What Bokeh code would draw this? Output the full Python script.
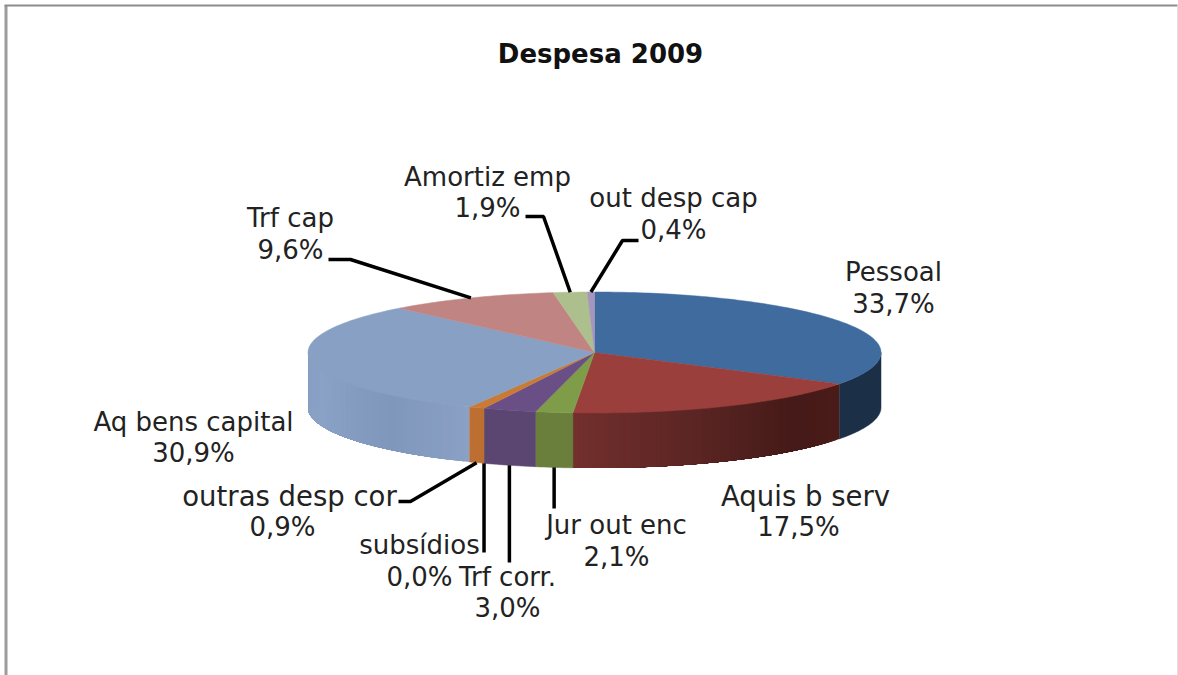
import math
from bokeh.plotting import figure
from bokeh.embed import file_html
from bokeh.resources import INLINE
from bokeh.core.properties import value

title = "Despesa 2009"
categories = ["Pessoal", "Aquis b serv", "Jur out enc", "Trf corr.", "subsídios",
              "outras desp cor", "Aq bens capital", "Trf cap", "Amortiz emp", "out desp cap"]
percent_labels = ["33,7%", "17,5%", "2,1%", "3,0%", "0,0%", "0,9%", "30,9%", "9,6%", "1,9%", "0,4%"]
shares = [33.7, 17.5, 2.1, 3.0, 0.0, 0.9, 30.9, 9.6, 1.9, 0.4]
top_colors = ["#3F6B9F", "#9A3F3C", "#7F9C48", "#6A4F86", "#4A9DB3",
              "#C97B36", "#88A0C3", "#C08583", "#ADBF8C", "#A596BE"]
side_stops = {
    "Pessoal": [(0, "#1B2F47"), (1, "#1B2F47")],
    "Aquis b serv": [(0, "#4A1B19"), (0.25, "#451A18"), (0.6, "#5A2523"), (1, "#722F2D")],
    "Jur out enc": [(0, "#6A7F3B"), (1, "#6A7F3B")],
    "Trf corr.": [(0, "#5B4672"), (1, "#5B4672")],
    "outras desp cor": [(0, "#BC6F30"), (1, "#BC6F30")],
    "Aq bens capital": [(0, "#8AA1C5"), (0.3, "#7F97BB"), (0.7, "#8AA2C6"), (1, "#879FC3")],
}

# layout (pixels, y down)
W, H = 1178, 675
CX, CY, RX, RY, DEPTH = 594, 352, 286.5, 60.5, 55
FONT = "DejaVu Sans"
LABEL_PX = 26
WIDE_LABELS = ["Aquis b serv", "outras desp cor"]  # these run wider in the reference
WIDE_PX = 27.5
# name label (x, y), percent label (x, y), elbows (x None = straight down from the slice)
label_pos = {
    "Pessoal": ((893, 271), (893, 303), None),
    "Aquis b serv": ((805, 495), (798, 526), None),
    "Jur out enc": ((616, 524), (616, 556), [(None, 508)]),
    "Trf corr.": ((507, 576), (507, 607), [(None, 562)]),
    "subsídios": ((419, 544), (419, 576), [(None, 552)]),
    "outras desp cor": ((289, 495), (282, 526), [(410, 501), (398, 501)]),
    "Aq bens capital": ((193, 421), (193, 452), None),
    "Trf cap": ((290, 217), (290, 249), [(350, 259), (328, 259)]),
    "Amortiz emp": ((487, 176), (487, 207), [(543, 216), (525, 216)]),
    "out desp cap": ((673, 197), (673, 229), [(622, 240), (638, 240)]),
}

def pt(frac, dz=0.0):
    a = 2 * math.pi * frac
    return CX + RX * math.sin(a), CY - RY * math.cos(a) + dz

def hex2rgb(h):
    return tuple(int(h[i:i + 2], 16) for i in (1, 3, 5))

def ramp(stops, t):
    for (t0, c0), (t1, c1) in zip(stops, stops[1:]):
        if t <= t1:
            u = 0 if t1 == t0 else (t - t0) / (t1 - t0)
            a, b = hex2rgb(c0), hex2rgb(c1)
            return "#%02x%02x%02x" % tuple(round(a[i] + (b[i] - a[i]) * u) for i in range(3))
    return stops[-1][1]

total = sum(shares)
bounds = [0.0]
for s in shares:
    bounds.append(bounds[-1] + s / total)

p = figure(width=W, height=H, x_range=(0, W), y_range=(H, 0), output_backend="svg",
           toolbar_location=None, min_border=0, outline_line_color=None,
           background_fill_color="white", border_fill_color="white")
p.axis.visible = False
p.grid.visible = False

# frame
p.line([5.5, 5.5], [H, 5], line_color="#9C9C9C", line_width=3)
p.line([4, 1177], [5, 5], line_color="#8C8C8C", line_width=2)
p.line([1177.5, 1177.5], [5, H], line_color="#D4D4D4", line_width=1.5)

# side wall, front half only (frac 0.25..0.75)
for name, a, b in zip(categories, bounds, bounds[1:]):
    if name not in side_stops or b - a <= 0:
        continue
    lo, hi = max(a, 0.25), min(b, 0.75)
    stops = side_stops[name]
    if stops[0][1] == stops[-1][1]:
        n = max(3, int((hi - lo) * 400))
        fr = [lo + (hi - lo) * i / n for i in range(n + 1)]
        up = [pt(f) for f in fr]
        dn = [pt(f, DEPTH) for f in reversed(fr)]
        p.patch([q[0] for q in up + dn], [q[1] for q in up + dn], fill_color=stops[0][1],
                line_color=stops[0][1], line_width=0.5)
    else:
        n = 60
        for i in range(n):
            f0 = lo + (hi - lo) * i / n
            f1 = hi  # each strip paints to the far end, so no seams show
            m = 24
            fr = [f0 + (f1 - f0) * j / m for j in range(m + 1)]
            up = [pt(f) for f in fr]
            dn = [pt(f, DEPTH) for f in reversed(fr)]
            p.patch([q[0] for q in up + dn], [q[1] for q in up + dn],
                    fill_color=ramp(stops, (i + 0.5) / n), line_color=None)

# top face
for name, a, b, col in zip(categories, bounds, bounds[1:], top_colors):
    if b - a <= 0:
        continue
    n = max(3, int((b - a) * 360))
    pts = [pt(a + (b - a) * i / n) for i in range(n + 1)]
    xs = [CX] + [q[0] for q in pts]
    ys = [CY] + [q[1] for q in pts]
    p.patch(xs, ys, fill_color=col, line_color=col, line_width=0.5)

# leaders
for name, a, b in zip(categories, bounds, bounds[1:]):
    elbows = label_pos[name][2]
    if not elbows:
        continue
    mid = (a + b) / 2
    front = 0.25 < mid < 0.75
    s = pt(mid, DEPTH if front else 0)
    xs = [s[0]] + [s[0] if e[0] is None else e[0] for e in elbows]
    ys = [s[1]] + [e[1] for e in elbows]
    p.line(xs, ys, line_color="black", line_width=3.5)

# labels
lx, ly, lt, wx, wy, wt = [], [], [], [], [], []
for name, pct in zip(categories, percent_labels):
    nm, pc, _ = label_pos[name]
    lx.append(pc[0]); ly.append(pc[1]); lt.append(pct)
    if name in WIDE_LABELS:
        wx.append(nm[0]); wy.append(nm[1]); wt.append(name)
    else:
        lx.append(nm[0]); ly.append(nm[1]); lt.append(name)
p.text(lx, ly, text=lt, text_font=value(FONT), text_font_size=f"{LABEL_PX}px",
       text_align="center", text_baseline="middle", text_color="#222222")
p.text(wx, wy, text=wt, text_font=value(FONT), text_font_size=f"{WIDE_PX}px",
       text_align="center", text_baseline="middle", text_color="#222222")
p.text([600], [53], text=[title], text_font=value(FONT), text_font_size="26px",
       text_font_style="bold", text_align="center", text_baseline="middle", text_color="#111111")

open("out.html", "w").write(file_html(p, INLINE))
